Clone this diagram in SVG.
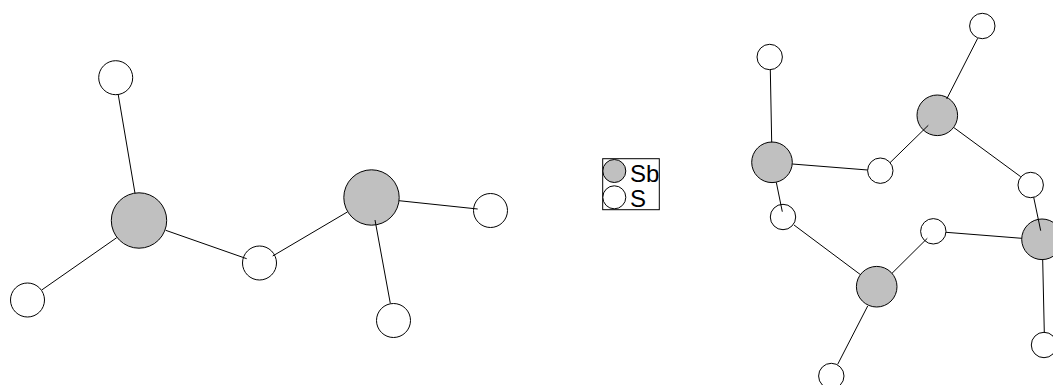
<svg xmlns="http://www.w3.org/2000/svg" width="1053" height="385" viewBox="0 0 1053 385">
<style>
circle{stroke:#000;stroke-width:1}
.sb{fill:#c0c0c0}
.s{fill:#fff}
#connectors line{stroke:#000;stroke-width:1;fill:none}
text{font-family:"Liberation Sans",Arial,sans-serif;font-size:24px;fill:#000}
</style>
<rect width="1053" height="385" fill="#fff"/>
<g id="sb1"><circle class="sb" cx="139" cy="220.5" r="27.7"/></g>
<g id="sb2"><circle class="sb" cx="371.5" cy="197.5" r="27.7"/></g>
<g id="s1"><circle class="s" cx="115.7" cy="77.7" r="17"/></g>
<g id="s2"><circle class="s" cx="27.5" cy="300" r="17"/></g>
<g id="s3"><circle class="s" cx="259.5" cy="263" r="17"/></g>
<g id="s4"><circle class="s" cx="490.5" cy="210.5" r="17"/></g>
<g id="s5"><circle class="s" cx="393.5" cy="320.5" r="17"/></g>
<g id="legend">
<rect x="602.7" y="158.7" width="56.6" height="51" fill="#fff" stroke="#000" stroke-width="1"/>
<circle class="sb" cx="614.3" cy="171" r="11.5"/>
<circle class="s" cx="614.3" cy="197.3" r="11.5"/>
<text x="630" y="181.7">Sb</text>
<text x="630" y="207.3">S</text>
</g>
<g id="sb3"><circle class="sb" cx="772" cy="162.3" r="20.3"/></g>
<g id="sb4"><circle class="sb" cx="937.3" cy="115.3" r="20.3"/></g>
<g id="sb5"><circle class="sb" cx="1042" cy="239.3" r="20.3"/></g>
<g id="sb6"><circle class="sb" cx="876.7" cy="286.7" r="20.3"/></g>
<g id="s6"><circle class="s" cx="769.7" cy="57" r="12.7"/></g>
<g id="s7"><circle class="s" cx="880.3" cy="170.7" r="12.7"/></g>
<g id="s8"><circle class="s" cx="982.3" cy="26" r="12.7"/></g>
<g id="s9"><circle class="s" cx="1030.7" cy="185" r="12.7"/></g>
<g id="s10"><circle class="s" cx="783" cy="217" r="12.7"/></g>
<g id="s11"><circle class="s" cx="933.3" cy="231.3" r="12.7"/></g>
<g id="s12"><circle class="s" cx="1044" cy="345" r="12.7"/></g>
<g id="s13"><circle class="s" cx="831.3" cy="376" r="12.7"/></g>
<g id="connectors">
<line x1="118.3" y1="95" x2="135" y2="193.3"/>
<line x1="41.7" y1="290" x2="116.7" y2="237.7"/>
<line x1="165.7" y1="230.3" x2="246.7" y2="258.7"/>
<line x1="272.7" y1="256" x2="347.3" y2="212"/>
<line x1="375" y1="220" x2="390.3" y2="303.3"/>
<line x1="399" y1="200.7" x2="477.7" y2="209"/>
<line x1="770.3" y1="69.3" x2="771.7" y2="142.3"/>
<line x1="792.3" y1="164" x2="867.7" y2="170"/>
<line x1="890" y1="162.7" x2="928.3" y2="125.3"/>
<line x1="946.7" y1="99" x2="977.7" y2="38.3"/>
<line x1="954" y1="127.7" x2="1020.7" y2="176.7"/>
<line x1="1033.7" y1="197.3" x2="1040.7" y2="230.7"/>
<line x1="946" y1="232.3" x2="1021.7" y2="238.3"/>
<line x1="1042.7" y1="260" x2="1044.3" y2="332.7"/>
<line x1="776.3" y1="182.3" x2="782.3" y2="211.7"/>
<line x1="794" y1="225" x2="860" y2="274.3"/>
<line x1="892" y1="273.3" x2="927.3" y2="238.3"/>
<line x1="867.7" y1="306" x2="837.7" y2="364.3"/>
</g>
</svg>
